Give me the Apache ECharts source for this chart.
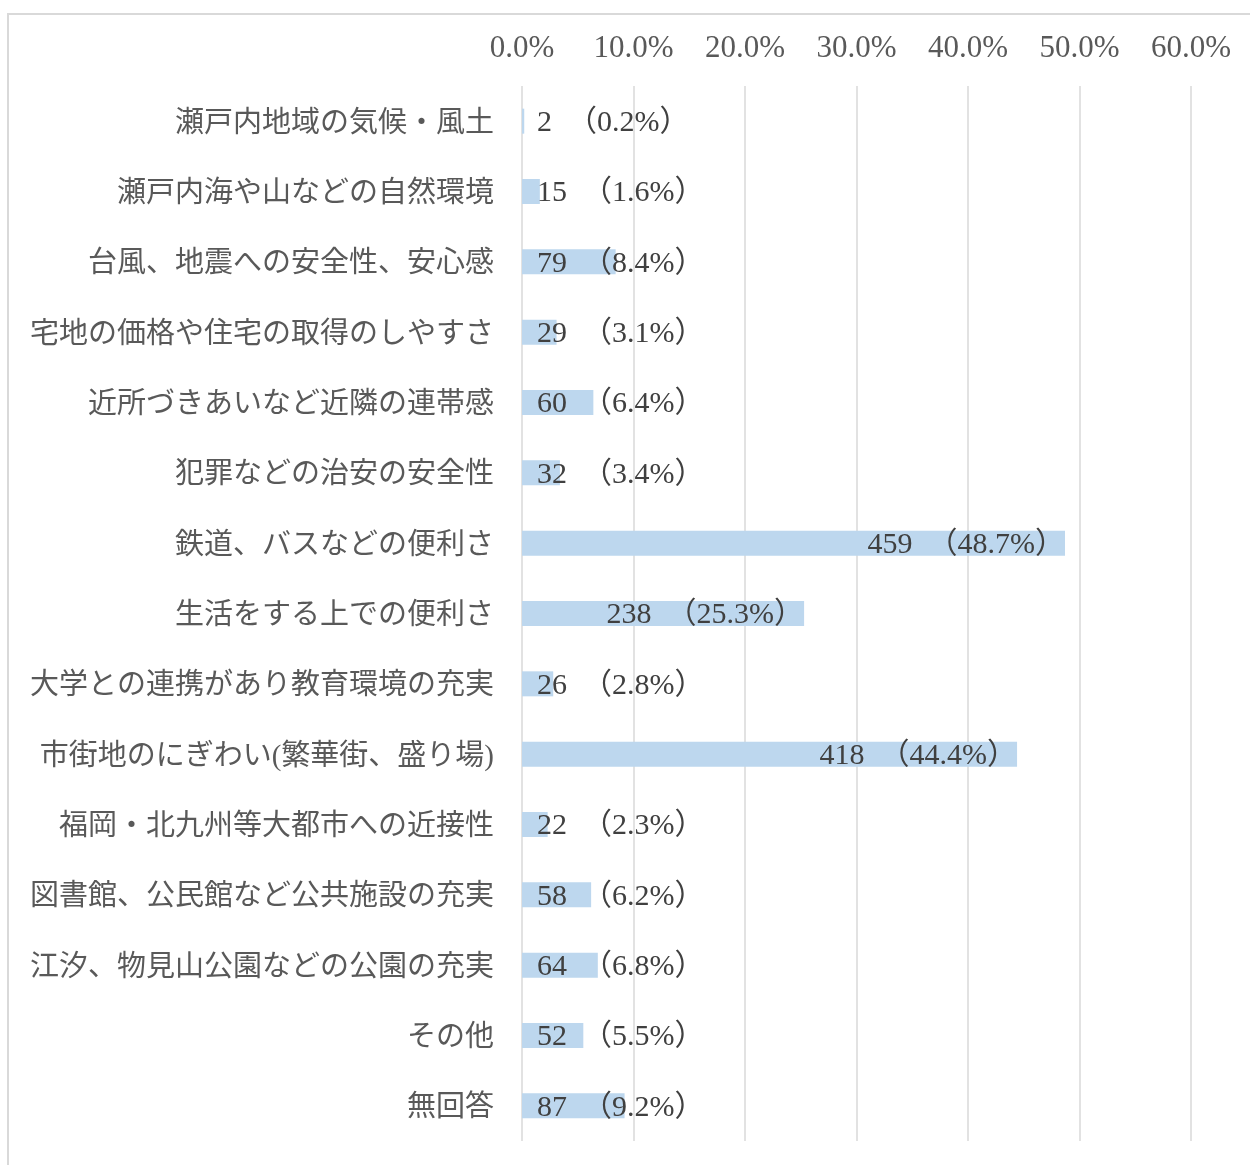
<!DOCTYPE html>
<html>
<head>
<meta charset="utf-8">
<script src="https://cdn.jsdelivr.net/npm/echarts@6/dist/echarts.min.js"></script>
<style>
html,body{margin:0;padding:0;background:#fff;}
#c{width:1250px;height:1165px;}
</style>
</head>
<body>
<div id="c"></div>
<script>
const categories = [
  '瀬戸内地域の気候・風土',
  '瀬戸内海や山などの自然環境',
  '台風、地震への安全性、安心感',
  '宅地の価格や住宅の取得のしやすさ',
  '近所づきあいなど近隣の連帯感',
  '犯罪などの治安の安全性',
  '鉄道、バスなどの便利さ',
  '生活をする上での便利さ',
  '大学との連携があり教育環境の充実',
  '市街地のにぎわい(繁華街、盛り場)',
  '福岡・北九州等大都市への近接性',
  '図書館、公民館など公共施設の充実',
  '江汐、物見山公園などの公園の充実',
  'その他',
  '無回答'
];
const counts = [2, 15, 79, 29, 60, 32, 459, 238, 26, 418, 22, 58, 64, 52, 87];
const percents = [0.2, 1.6, 8.4, 3.1, 6.4, 3.4, 48.7, 25.3, 2.8, 44.4, 2.3, 6.2, 6.8, 5.5, 9.2];
const axisMax = 60;
const axisStep = 10;

const FONT = "'Liberation Serif', 'Noto Sans CJK JP', serif";
const insideThreshold = 20;

const data = percents.map((p, i) => ({
  value: p,
  label: p > insideThreshold
    ? { position: 'insideRight', distance: 0 }
    : { position: 'insideLeft', distance: 15 }
}));

const chart = echarts.init(document.getElementById('c'), null, { renderer: 'canvas' });
chart.setOption({
  animation: false,
  backgroundColor: '#ffffff',
  graphic: [{
    type: 'rect',
    shape: { x: 8, y: 14, width: 1400, height: 1400 },
    style: { fill: 'none', stroke: '#d9d9d9', lineWidth: 2 },
    silent: true
  }],
  grid: { left: 522, right: 59, top: 86, bottom: 24, containLabel: false },
  xAxis: {
    type: 'value',
    position: 'top',
    min: 0,
    max: axisMax,
    interval: axisStep,
    axisLine: { show: false },
    axisTick: { show: false },
    splitLine: { show: true, lineStyle: { color: '#d9d9d9', width: 1.5 } },
    axisLabel: {
      margin: 22,
      color: '#595959',
      fontFamily: FONT,
      fontSize: 31,
      formatter: v => v.toFixed(1) + '%'
    }
  },
  yAxis: {
    type: 'category',
    inverse: true,
    data: categories,
    axisLine: { show: false },
    axisTick: { show: false },
    splitLine: { show: false },
    axisLabel: {
      margin: 28,
      color: '#595959',
      fontFamily: FONT,
      fontSize: 29,
      formatter: v => '{t|' + v + '}',
      rich: {
        t: {
          color: '#595959',
          fontFamily: FONT,
          fontSize: 29,
          padding: [6, 0, 0, 0]
        }
      }
    }
  },
  series: [{
    type: 'bar',
    data: data,
    barWidth: 25,
    itemStyle: { color: '#BDD7EE' },
    label: {
      show: true,
      color: '#404040',
      fontFamily: FONT,
      fontSize: 30,
      offset: [0, 2],
      formatter: p => counts[p.dataIndex] + '  （' + percents[p.dataIndex].toFixed(1) + '%）'
    }
  }]
});
</script>
</body>
</html>
